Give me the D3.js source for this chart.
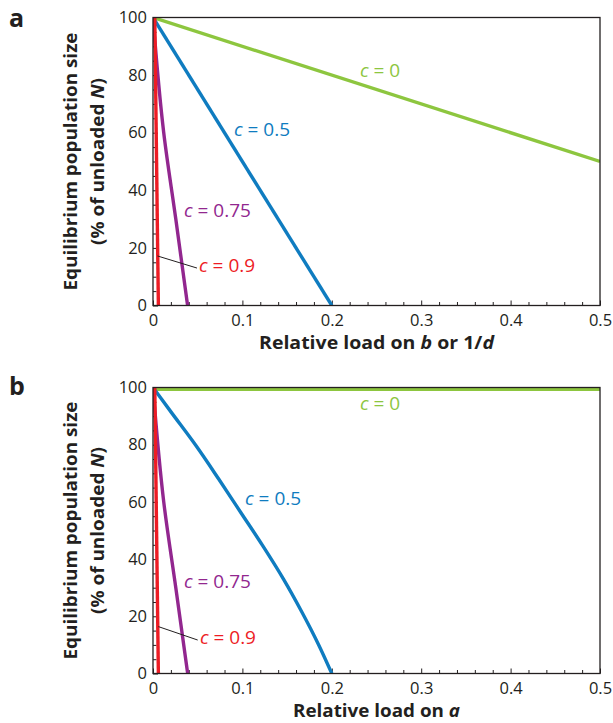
<!DOCTYPE html>
<html>
<head>
<meta charset="utf-8">
<script src="https://cdn.jsdelivr.net/npm/d3@7"></script>
<style>
  body { margin: 0; background: #fff; }
  svg { display: block; font-family: "Open Sans", sans-serif; }
</style>
</head>
<body>
<svg id="chart" width="613" height="723"></svg>
<script>
// tick values
var loadTicks = [0, 0.1, 0.2, 0.3, 0.4, 0.5];
var loadMinor = [0.02, 0.04, 0.06, 0.08, 0.12, 0.14, 0.16, 0.18, 0.22, 0.24, 0.26, 0.28,
                 0.32, 0.34, 0.36, 0.38, 0.42, 0.44, 0.46, 0.48];
var sizeTicks = [0, 20, 40, 60, 80, 100];
var sizeMinor = [5, 10, 15, 25, 30, 35, 45, 50, 55, 65, 70, 75, 85, 90, 95];

var cLabels = ["0", "0.5", "0.75", "0.9"];

// panel a: load on b or 1/d
var aLoad_c0 = [0, 0.5];
var aSize_c0 = [100, 50];
var aLoad_c05 = [0, 0.2];
var aSize_c05 = [100, 0];
var aLoad_c075 = [0, 0.012, 0.0255, 0.0387];
var aSize_c075 = [100, 60, 30, 0];
var aLoad_c09 = [0.002, 0.006];
var aSize_c09 = [100, 0];

// panel b: load on a
var bLoad_c0 = [0, 0.5];
var bSize_c0 = [99.4, 99.4];
var bLoad_c05 = [0, 0.0205, 0.048, 0.0735, 0.098, 0.1225, 0.1458, 0.1665, 0.1855, 0.2];
var bSize_c05 = [100, 91.3, 79.7, 68, 56.4, 44.8, 33.1, 21.5, 9.9, 0];
var bLoad_c075 = [0, 0.012, 0.0255, 0.0388];
var bSize_c075 = [100, 60, 30, 0];
var bLoad_c09 = [0.002, 0.006];
var bSize_c09 = [100, 0];

var colors = ["#8dc63f", "#0f7cc0", "#92278f", "#ed1c24"];
var ink = "#231f20";

var svg = d3.select("#chart");

var x = d3.scaleLinear().domain([0, 0.5]).range([153, 600]);

function zip(xs, ys) {
    return xs.map(function(v, i) { return [v, ys[i]]; });
}

//draw one panel; annotations are in data coordinates
function drawPanel(p) {
    var y = d3.scaleLinear().domain([0, 100]).range([p.bottom, p.top]);
    var g = svg.append("g");

    var clipId = "clip-" + p.letter;
    svg.append("clipPath").attr("id", clipId)
      .append("rect")
      .attr("x", x(0)).attr("y", y(100))
      .attr("width", x(0.5) - x(0)).attr("height", y(0) - y(100));

    //minor ticks
    g.append("g").attr("transform", "translate(0," + y(0) + ")")
      .call(d3.axisBottom(x).tickValues(loadMinor).tickSize(-3.5).tickFormat(""))
      .call(styleAxis);
    g.append("g").attr("transform", "translate(" + x(0) + ",0)")
      .call(d3.axisLeft(y).tickValues(sizeMinor).tickSize(-3.5).tickFormat(""))
      .call(styleAxis);

    //major ticks + labels
    g.append("g").attr("transform", "translate(0," + y(0) + ")")
      .call(d3.axisBottom(x).tickValues(loadTicks).tickSize(-5).tickPadding(8.5)
            .tickFormat(function(d) { return d === 0 ? "0" : d3.format(".1f")(d); }))
      .call(styleAxis);
    g.append("g").attr("transform", "translate(" + x(0) + ",0)")
      .call(d3.axisLeft(y).tickValues(sizeTicks).tickSize(-5).tickPadding(6))
      .call(styleAxis);

    //curves (x as a smooth function of y where there are several points)
    p.series.forEach(function(s, i) {
        var line = d3.line()
          .x(function(d) { return x(d[0]); })
          .y(function(d) { return y(d[1]); })
          .curve(s[0].length > 2 ? d3.curveMonotoneY : d3.curveLinear);
        g.append("path")
          .datum(zip(s[0], s[1]))
          .attr("clip-path", "url(#" + clipId + ")")
          .attr("d", line)
          .attr("fill", "none")
          .attr("stroke", colors[i])
          .attr("stroke-width", 3.4);
    });

    //frame
    g.append("rect")
      .attr("x", x(0)).attr("y", y(100))
      .attr("width", x(0.5) - x(0)).attr("height", y(0) - y(100))
      .attr("fill", "none").attr("stroke", ink).attr("stroke-width", 1.3);

    //leader for c = 0.9
    g.append("line")
      .attr("x1", x(p.leader[0])).attr("y1", y(p.leader[1]))
      .attr("x2", x(p.leader[2])).attr("y2", y(p.leader[3]))
      .attr("stroke", ink).attr("stroke-width", 1);

    //series labels
    p.labels.forEach(function(pos, i) {
        var t = g.append("text")
          .attr("x", x(pos[0])).attr("y", y(pos[1]))
          .attr("fill", colors[i])
          .style("font-size", "19px");
        t.append("tspan").attr("font-style", "italic").text("c");
        t.append("tspan").text(" = " + cLabels[i]);
    });

    //axis titles
    var xt = g.append("text")
      .attr("x", x(0.25)).attr("y", y(0) + 43.5)
      .attr("text-anchor", "middle")
      .attr("fill", ink)
      .style("font-size", "18.5px").style("font-weight", "bold")
      .attr("textLength", p.xTitleWidth).attr("lengthAdjust", "spacingAndGlyphs");
    p.xTitle.forEach(function(part) {
        xt.append("tspan").attr("font-style", part[1] ? "italic" : null).text(part[0]);
    });

    var yt = g.append("g")
      .attr("transform", "translate(0," + y(50) + ") rotate(-90)")
      .attr("fill", ink)
      .style("font-size", "18px").style("font-weight", "bold")
      .attr("text-anchor", "middle");
    yt.append("text").attr("x", 0).attr("y", 77)
      .attr("textLength", 258).attr("lengthAdjust", "spacingAndGlyphs")
      .text("Equilibrium population size");
    var l2 = yt.append("text").attr("x", 0).attr("y", 103.5)
      .attr("textLength", 167).attr("lengthAdjust", "spacingAndGlyphs");
    l2.append("tspan").text("(% of unloaded ");
    l2.append("tspan").attr("font-style", "italic").text("N");
    l2.append("tspan").text(")");

    //panel letter
    svg.append("text")
      .attr("x", 9).attr("y", p.letterY)
      .attr("fill", ink)
      .style("font-size", "25px").style("font-weight", "bold")
      .text(p.letter);
}

function styleAxis(sel) {
    sel.select(".domain").remove();
    sel.selectAll(".tick line").attr("stroke", ink).attr("stroke-width", 1);
    sel.selectAll(".tick text").attr("fill", ink)
      .style("font-size", "16.5px").style("font-family", "'Open Sans', sans-serif");
}

drawPanel({
    letter: "a", letterY: 27,
    top: 17.5, bottom: 305.5,
    series: [[aLoad_c0, aSize_c0], [aLoad_c05, aSize_c05], [aLoad_c075, aSize_c075], [aLoad_c09, aSize_c09]],
    labels: [[0.2315, 79.3], [0.0906, 58.9], [0.0347, 30.7], [0.0515, 11.6]],
    leader: [0.005, 17.2, 0.0492, 13.0],
    xTitle: [["Relative load on ", false], ["b", true], [" or 1/", false], ["d", true]],
    xTitleWidth: 235
});

drawPanel({
    letter: "b", letterY: 395,
    top: 387.5, bottom: 673.5,
    series: [[bLoad_c0, bSize_c0], [bLoad_c05, bSize_c05], [bLoad_c075, bSize_c075], [bLoad_c09, bSize_c09]],
    labels: [[0.2315, 92.1], [0.103, 58.9], [0.0347, 29.9], [0.0525, 10.3]],
    leader: [0.006, 16.4, 0.05, 11.7],
    xTitle: [["Relative load on ", false], ["a", true]],
    xTitleWidth: 167
});
</script>
</body>
</html>
